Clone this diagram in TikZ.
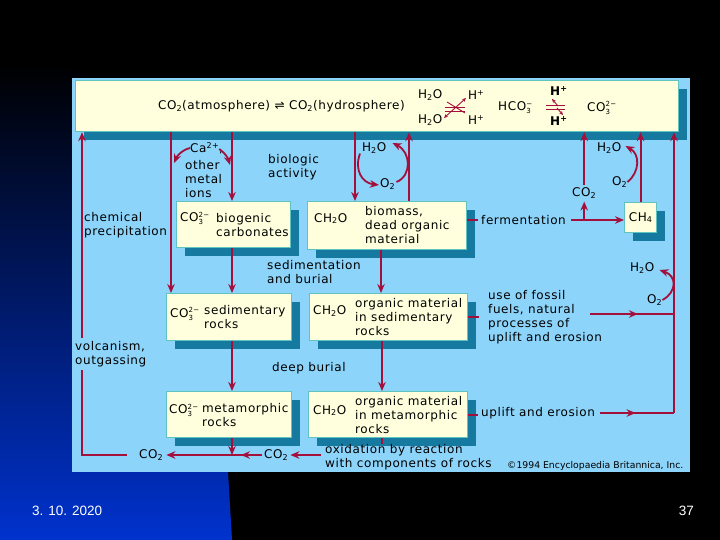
\documentclass[tikz,border=0pt]{standalone}
\usepackage{fontspec}
\setmainfont{DejaVu Sans}[LetterSpace=5]
\newfontfamily\creditfont{DejaVu Sans}
\newfontfamily\slidefont{Liberation Sans}
\usepackage{xcolor}
\usetikzlibrary{arrows.meta,positioning,calc,shadows,decorations.markings}

\definecolor{panelblue}{RGB}{140,212,250}
\definecolor{boxcream}{RGB}{255,255,222}
\definecolor{boxedge}{RGB}{95,196,192}
\definecolor{shadowteal}{RGB}{22,122,160}
\definecolor{flowred}{RGB}{165,15,60}
\definecolor{slideblue}{RGB}{0,50,205}
\definecolor{slidemid}{RGB}{0,24,110}

\newcommand{\chemsb}[1]{$_{\mbox{\footnotesize #1}}$}
\newcommand{\chemsp}[1]{$^{\mbox{\footnotesize #1}}$}
\newcommand{\chemsbsp}[2]{$_{\mbox{\scriptsize #1}}^{\mbox{\scriptsize #2}}$}

\tikzset{
  midarrow/.style={link, postaction={decorate},
    decoration={markings, mark=at position #1 with {\arrow[flowred]{>}}}}
}

\begin{document}
\begin{tikzpicture}[x=1pt, y=-1pt,
  >={Stealth[length=9pt, width=7.5pt]},
  every node/.style={font=\fontsize{12}{14}\selectfont},
  txt/.style={inner sep=0pt, anchor=west, align=left},
  box/.style={draw=boxedge, line width=1.2pt, fill=boxcream, anchor=north west, inner sep=0pt,
    drop shadow={shadow xshift=8pt, shadow yshift=-8pt, fill=shadowteal, opacity=1}},
  flow/.style={->, draw=flowred, line width=1.8pt},
  link/.style={draw=flowred, line width=1.8pt},
  eq/.style={draw=flowred, line width=0.9pt},
  eqarrow/.style={eq, -{Stealth[length=4pt, width=3.5pt]}}
]
  \useasboundingbox (0,0) rectangle (720,540);
  % slide background
  \fill[black] (0,0) rectangle (720,540);
  \shade[top color=black, middle color=slidemid, bottom color=slideblue]
    (0,62) -- (20,62) .. controls (90,62) and (130,100) .. (150,140) -- (228,472) -- (232,540) -- (0,540) -- cycle;
  \fill[panelblue] (72,78) rectangle (690,472);

  % boxes
  \node[box, minimum width=603pt, minimum height=51pt] (atm) at (75,80) {};
  \node[box, minimum width=114pt, minimum height=46pt] (bio) at (176,201) {};
  \node[box, minimum width=159pt, minimum height=48pt] (mass) at (307,201) {};
  \node[box, minimum width=125pt, minimum height=47pt] (sed) at (166,293) {};
  \node[box, minimum width=158pt, minimum height=47pt] (osed) at (309,293) {};
  \node[box, minimum width=125pt, minimum height=46pt] (meta) at (166,391) {};
  \node[box, minimum width=159pt, minimum height=46pt] (ometa) at (308,391) {};
  \node[box, minimum width=32pt, minimum height=30pt] (ch4) at (624,202) {CH\chemsb{4}};

  % top bar
  \node[txt] (eqco) at (158,106) {CO\chemsb{2}(atmosphere) ⇌ CO\chemsb{2}(hydrosphere)};
  \node[txt] (wa) at (418,95) {H\chemsb{2}O};
  \node[txt] (wb) at (418,120) {H\chemsb{2}O};
  \node[txt] (ha) at (468,95) {H\chemsp{+}};
  \node[txt] (hb) at (468,120) {H\chemsp{+}};
  \node[txt] (hco) at (498,108) {HCO\chemsbsp{3}{−}};
  \node[txt, font=\fontsize{12}{14}\selectfont\bfseries] (hc) at (550,91) {H\chemsp{+}};
  \node[txt, font=\fontsize{12}{14}\selectfont\bfseries] (hd) at (550,121) {H\chemsp{+}};
  \node[txt] (cot) at (587,108) {CO\chemsbsp{3}{2−}};
  \draw[eq] (445,107) -- (465,107) (445,111) -- (465,111);
  \draw[eq, {Stealth[length=4pt, width=3.5pt]}-{Stealth[length=4pt, width=3.5pt]}] (444,118) -- (466,98);
  \draw[eq] (447,102) -- (465,113);
  \draw[eq] (546,105) -- (565,105) (546,109) -- (565,109);
  \draw[eqarrow] (558,106) -- (552,99);
  \draw[eqarrow] (557,108) -- (563,115);

  % box texts
  \node[txt] (bioform) at ($(bio.west)+(4,-6)$) {CO\chemsbsp{3}{2−}};
  \node[txt] (biotext) at ($(bio.west)+(40,0)$) {biogenic\\carbonates};
  \node[txt] (massform) at ($(mass.west)+(7,-7)$) {CH\chemsb{2}O};
  \node[txt] (masstext) at ($(mass.west)+(58,-1)$) {biomass,\\dead organic\\material};
  \node[txt] (sedform) at ($(sed.west)+(4,-3)$) {CO\chemsbsp{3}{2−}};
  \node[txt] (sedtext) at ($(sed.west)+(38,0)$) {sedimentary\\rocks};
  \node[txt] (osedform) at ($(osed.west)+(4,-6)$) {CH\chemsb{2}O};
  \node[txt] (osedtext) at ($(osed.west)+(46,0)$) {organic material\\in sedimentary\\rocks};
  \node[txt] (metaform) at ($(meta.west)+(3,-4)$) {CO\chemsbsp{3}{2−}};
  \node[txt] (metatext) at ($(meta.west)+(36,0)$) {metamorphic\\rocks};
  \node[txt] (ometaform) at ($(ometa.west)+(5,-4)$) {CH\chemsb{2}O};
  \node[txt] (ometatext) at ($(ometa.west)+(47,0)$) {organic material\\in metamorphic\\rocks};

  % free labels
  \node[txt] (chem) at (84,225) {chemical\\precipitation};
  \node[txt] (ca) at (190,148) {Ca\chemsp{2+},};
  \node[txt] (ions) at (185,179) {other\\metal\\ions};
  \node[txt] (bioact) at (268,167) {biologic\\activity};
  \node[txt] (h2oa) at (362,148) {H\chemsb{2}O};
  \node[txt] (o2a) at (380,184) {O\chemsb{2}};
  \node[txt] (sedim) at (267,272) {sedimentation\\and burial};
  \node[txt] (deep) at (272,368) {deep burial};
  \node[txt] (oxid) at (325,457) {oxidation by reaction\\with components of rocks};
  \node[txt] (co2l) at (139,455) {CO\chemsb{2}};
  \node[txt] (co2r) at (264,455) {CO\chemsb{2}};
  \node[txt] (ferm) at (481,220) {fermentation};
  \node[txt] (co2f) at (572,193) {CO\chemsb{2}};
  \node[txt] (h2ob) at (597,148) {H\chemsb{2}O};
  \node[txt] (o2b) at (612,182) {O\chemsb{2}};
  \node[txt] (fossil) at (488,317) {use of fossil\\fuels, natural\\processes of\\uplift and erosion};
  \node[txt] (uplift) at (481,413) {uplift and erosion};
  \node[txt] (h2oc) at (630,268) {H\chemsb{2}O};
  \node[txt] (o2c) at (647,300) {O\chemsb{2}};

  % connectors
  \draw[flow] ($(co2l.west)+(-12,0)$) -| (atm.south -| 82,0);
  \draw[flow] (atm.south -| 171,0) -- (sed.north -| 171,0);
  \draw[flow] (atm.south -| 232,0) -- (bio.north -| 232,0);
  \draw[flow] (ca.west) .. controls (182,150) and (177,156) .. (174,163);
  \draw[flow] ($(ca.east)+(-4,1)$) .. controls (225,153) and (228,158) .. (230,165);
  \draw[flow] (atm.south -| 355,0) -- (mass.north -| 355,0);
  \draw[flow] (mass.north -| 409,0) -- (atm.south -| 409,0);
  \draw[flow] ($(h2oa.south west)+(-2,0)$) .. controls (354,170) and (362,183) .. ($(o2a.west)+(-1,1)$);
  \draw[flow] ($(o2a.east)+(1,-2)$) .. controls (412,176) and (411,152) .. ($(h2oa.east)+(6,-5)$);
  \draw[flow] (bio.south -| 232,0) -- (sed.north -| 232,0);
  \draw[flow] (mass.south -| 381,0) -- (osed.north -| 381,0);
  \draw[flow] (sed.south -| 232,0) -- (meta.north -| 232,0);
  \draw[flow] (osed.south -| 382,0) -- (ometa.north -| 382,0);

  \coordinate (jn) at (232,455);
  \draw[flow] (meta.south -| jn) -- (jn);
  \draw[link] (ometa.south -| 382,0) -- ++(0,6);
  \draw[flow] ($(oxid.west |- co2r.east)+(-4,0)$) -- ($(co2r.east)+(2,0)$);
  \draw[midarrow=0.22, ->] ($(co2r.west)+(-2,0)$) -- ($(co2l.east)+(3,0)$);

  \draw[link] (mass.east |- ferm.west) -- ($(ferm.west)+(-3,0)$);
  \draw[flow] ($(ferm.east)+(5,0)$) -- (ch4.west |- ferm.east);
  \draw[flow] (co2f.south |- ferm.east) -- ($(co2f.south)+(0,3)$);
  \draw[flow] ($(co2f.north)+(0,-2)$) -- (atm.south -| co2f.north);
  \draw[flow] (ch4.north) -- (atm.south -| ch4.north);
  \draw[flow] (o2b.east) .. controls (640,172) and (640,154) .. ($(h2ob.east)+(4,-2)$);

  \coordinate (rb) at (674,413);
  \coordinate (fs) at (590,314);
  \draw[flow] (rb) -- (atm.south -| rb);
  \draw[link] (osed.east) -- ($(fossil.west |- osed.east)+(-9,0)$);
  \draw[midarrow=0.57] (fs) -- (fs -| rb);
  \draw[link] (ometa.east) -- ($(ometa.east -| uplift.west)+(-3,0)$);
  \draw[midarrow=0.48] ($(uplift.east)+(5,0)$) -- (rb);
  \draw[flow] (o2c.east) .. controls (677,292) and (677,276) .. ($(h2oc.east)+(5,2)$);

  \node[txt, fill=panelblue, inner ysep=3pt] (volc) at (75,354) {volcanism,\\outgassing};

  % credits and slide footer
  \node[txt, font=\creditfont\fontsize{9.3}{11}\selectfont] (credit) at (507,466) {©1994 Encyclopaedia Britannica, Inc.};
  \node[txt, text=white, font=\slidefont\fontsize{13.5}{16}\selectfont] (date) at (32,511) {3. 10. 2020};
  \node[txt, anchor=east, text=white, font=\slidefont\fontsize{13.5}{16}\selectfont] (page) at (694,511) {37};
\end{tikzpicture}
\end{document}
